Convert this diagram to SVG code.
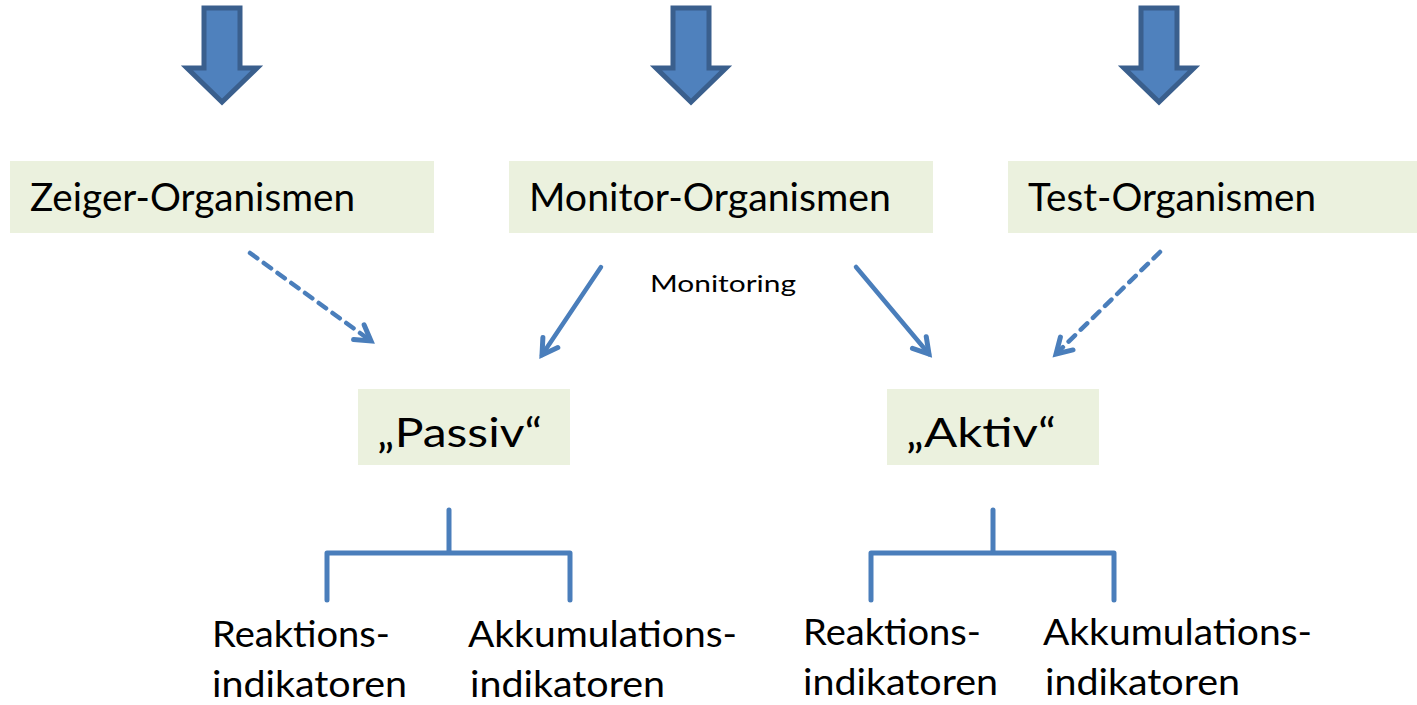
<svg xmlns="http://www.w3.org/2000/svg" width="1417" height="705" viewBox="0 0 1417 705">
<style>
.box{fill:#EBF1DE}
.t{font-family:Lato,"Open Sans",sans-serif;fill:#000}
.big{fill:#4F81BD;stroke:#3A5F8D;stroke-width:5;stroke-linejoin:miter}
.con{fill:none;stroke:#4A7EBB;stroke-width:4.5;stroke-linecap:round;stroke-linejoin:round}
.dash{stroke-dasharray:9 8}
.br{fill:none;stroke:#4A7EBB;stroke-width:5;stroke-linecap:round;stroke-linejoin:round}
</style>
<defs>
<marker id="ah" markerUnits="userSpaceOnUse" markerWidth="30" markerHeight="30" viewBox="-20 -15 30 30" refX="0" refY="0" orient="auto">
<path d="M-15,-9 L0,0 L-15,9" fill="none" stroke="#4A7EBB" stroke-width="5" stroke-linecap="round" stroke-linejoin="miter"/>
</marker>
</defs>
<g id="arrow-zeiger"><path class="big" d="M204,8 H240 V68 H257 L222,102 L187,68 H204 Z"/></g>
<g id="arrow-monitor"><path class="big" d="M673,8 H709 V68 H726 L691,102 L656,68 H673 Z"/></g>
<g id="arrow-test"><path class="big" d="M1141,8 H1177 V68 H1194 L1159,102 L1124,68 H1141 Z"/></g>
<g id="zeiger"><rect class="box" x="10" y="161" width="424" height="72"/><text class="t" x="30" y="211" font-size="38" textLength="325" lengthAdjust="spacingAndGlyphs">Zeiger-Organismen</text></g>
<g id="monitor"><rect class="box" x="509" y="161" width="424" height="72"/><text class="t" x="529" y="211" font-size="38" textLength="362" lengthAdjust="spacingAndGlyphs">Monitor-Organismen</text></g>
<g id="test"><rect class="box" x="1008" y="161" width="409" height="72"/><text class="t" x="1028" y="211" font-size="38" textLength="288" lengthAdjust="spacingAndGlyphs">Test-Organismen</text></g>
<g id="passiv"><rect class="box" x="358" y="389" width="212" height="76"/><text class="t" x="377" y="447" font-size="40" textLength="165" lengthAdjust="spacingAndGlyphs">„Passiv“</text></g>
<g id="aktiv"><rect class="box" x="887" y="389" width="212" height="76"/><text class="t" x="906" y="447" font-size="40" textLength="150" lengthAdjust="spacingAndGlyphs">„Aktiv“</text></g>
<g id="monitoring-label"><text class="t" x="650" y="292" font-size="24" textLength="146" lengthAdjust="spacingAndGlyphs">Monitoring</text></g>
<g id="connectors">
<line class="con dash" x1="250" y1="253" x2="371" y2="341" marker-end="url(#ah)"/>
<line class="con" x1="601" y1="267" x2="542" y2="355" marker-end="url(#ah)"/>
<line class="con" x1="856" y1="267" x2="929" y2="354" marker-end="url(#ah)"/>
<line class="con dash" x1="1160" y1="252" x2="1056" y2="354" marker-end="url(#ah)"/>
<path class="br" d="M449,510 V553 M327,600 V553 H570 V600"/>
<path class="br" d="M993,510 V553 M871,600 V553 H1114 V600"/>
</g>
<g id="passiv-reaktion"><text class="t" font-size="36"><tspan x="212" y="647" textLength="178" lengthAdjust="spacingAndGlyphs">Reaktions-</tspan><tspan x="212" y="697" textLength="195" lengthAdjust="spacingAndGlyphs">indikatoren</tspan></text></g>
<g id="passiv-akkumulation"><text class="t" font-size="36"><tspan x="468" y="647" textLength="269" lengthAdjust="spacingAndGlyphs">Akkumulations-</tspan><tspan x="470" y="697" textLength="195" lengthAdjust="spacingAndGlyphs">indikatoren</tspan></text></g>
<g id="aktiv-reaktion"><text class="t" font-size="36"><tspan x="803" y="645" textLength="178" lengthAdjust="spacingAndGlyphs">Reaktions-</tspan><tspan x="803" y="695" textLength="195" lengthAdjust="spacingAndGlyphs">indikatoren</tspan></text></g>
<g id="aktiv-akkumulation"><text class="t" font-size="36"><tspan x="1043" y="645" textLength="269" lengthAdjust="spacingAndGlyphs">Akkumulations-</tspan><tspan x="1045" y="695" textLength="195" lengthAdjust="spacingAndGlyphs">indikatoren</tspan></text></g>
</svg>
